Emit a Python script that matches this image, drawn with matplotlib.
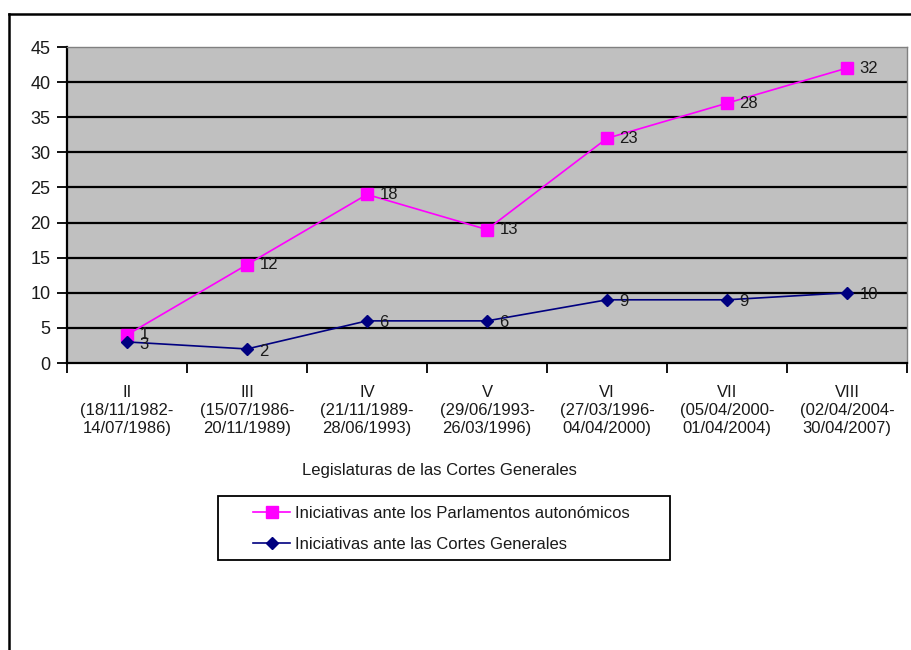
import matplotlib
matplotlib.use("Agg")
import matplotlib.pyplot as plt
from matplotlib.lines import Line2D
from matplotlib.patches import Rectangle

plt.rcParams["font.family"] = ["Liberation Sans", "DejaVu Sans"]

# Legislaturas (roman numeral + period)
legislaturas = ["II", "III", "IV", "V", "VI", "VII", "VIII"]
periodos = [
    "(18/11/1982-\n14/07/1986)",
    "(15/07/1986-\n20/11/1989)",
    "(21/11/1989-\n28/06/1993)",
    "(29/06/1993-\n26/03/1996)",
    "(27/03/1996-\n04/04/2000)",
    "(05/04/2000-\n01/04/2004)",
    "(02/04/2004-\n30/04/2007)",
]

# Number of initiatives per legislature
cortes_generales = [3, 2, 6, 6, 9, 9, 10]
parlamentos_autonomicos = [1, 12, 18, 13, 23, 28, 32]

# Stacked line: autonomous parliaments drawn on top of Cortes Generales
apilado = [c + p for c, p in zip(cortes_generales, parlamentos_autonomicos)]

y_ticks = list(range(0, 50, 5))

PINK = "#FF00FF"
NAVY = "#000080"
GRAY_BG = "#C0C0C0"
TXT = "#1a1a1a"

W, H = 912, 650
fig = plt.figure(figsize=(W / 100, H / 100), dpi=100)
fig.patch.set_facecolor("white")

# Chart-area frame (extends past the bottom/right edges)
fig.add_artist(Line2D([9 / W, 1.0], [1 - 14 / H, 1 - 14 / H], color="black", lw=1.8))
fig.add_artist(Line2D([9 / W, 9 / W], [0.0, 1 - 14 / H], color="black", lw=1.8))

ax = fig.add_axes([67 / W, 1 - 363 / H, 840 / W, 316 / H])
ax.set_facecolor(GRAY_BG)

x = list(range(len(legislaturas)))

ax.set_xlim(-0.5, len(legislaturas) - 0.5)
ax.set_ylim(0, 45)
ax.set_yticks(y_ticks)
ax.set_yticklabels([str(v) for v in y_ticks], fontsize=13, color=TXT)

for v in y_ticks[1:-1]:
    ax.axhline(v, color="black", lw=1.6, zorder=1)

ax.plot(x, apilado, color=PINK, lw=1.2, marker="s", ms=9,
        markerfacecolor=PINK, markeredgecolor=PINK, zorder=3,
        label="Iniciativas ante los Parlamentos autonómicos")
ax.plot(x, cortes_generales, color=NAVY, lw=1.2, marker="D", ms=6.5,
        markerfacecolor=NAVY, markeredgecolor=NAVY, zorder=4,
        label="Iniciativas ante las Cortes Generales")

for xi, ytop, val in zip(x, apilado, parlamentos_autonomicos):
    ax.annotate(str(val), (xi, ytop), xytext=(9, 0), textcoords="offset points",
                ha="left", va="center", fontsize=12, color=TXT, zorder=5)
for xi, yb, val in zip(x, cortes_generales, cortes_generales):
    ax.annotate(str(val), (xi, yb), xytext=(9, -1.5), textcoords="offset points",
                ha="left", va="center", fontsize=12, color=TXT, zorder=5)

ax.set_xticks(x)
ax.set_xticklabels([f"{r}\n{p}" for r, p in zip(legislaturas, periodos)],
                   fontsize=12, color=TXT, linespacing=1.25)
ax.tick_params(axis="x", which="major", length=0, pad=16)
ax.set_xticks([i - 0.5 for i in range(len(legislaturas) + 1)], minor=True)
ax.tick_params(axis="x", which="minor", length=7, width=1.3, color="black", direction="out")
ax.tick_params(axis="y", length=7, width=1.3, color="black", direction="out", pad=5)

for side in ("top", "right"):
    ax.spines[side].set_color("#808080")
    ax.spines[side].set_linewidth(1.0)
for side in ("left", "bottom"):
    ax.spines[side].set_color("black")
    ax.spines[side].set_linewidth(1.6)

fig.text(439 / W, 1 - 470 / H, "Legislaturas de las Cortes Generales",
         ha="center", va="center", fontsize=12, color=TXT)

# Legend: entries without frame, box drawn separately for wider side padding
leg = fig.legend(loc="center left", bbox_to_anchor=(245 / W, 1 - 529 / H),
                 fontsize=12, frameon=False,
                 handlelength=2.2, handletextpad=0.3, borderpad=0.0,
                 labelspacing=0.95, labelcolor=TXT)
fig.add_artist(Rectangle((218 / W, 1 - 560 / H), (670 - 218) / W, (560 - 496) / H,
                         transform=fig.transFigure, facecolor="none",
                         edgecolor="black", lw=1.3))

fig.savefig("out.png", dpi=100, facecolor="white")
